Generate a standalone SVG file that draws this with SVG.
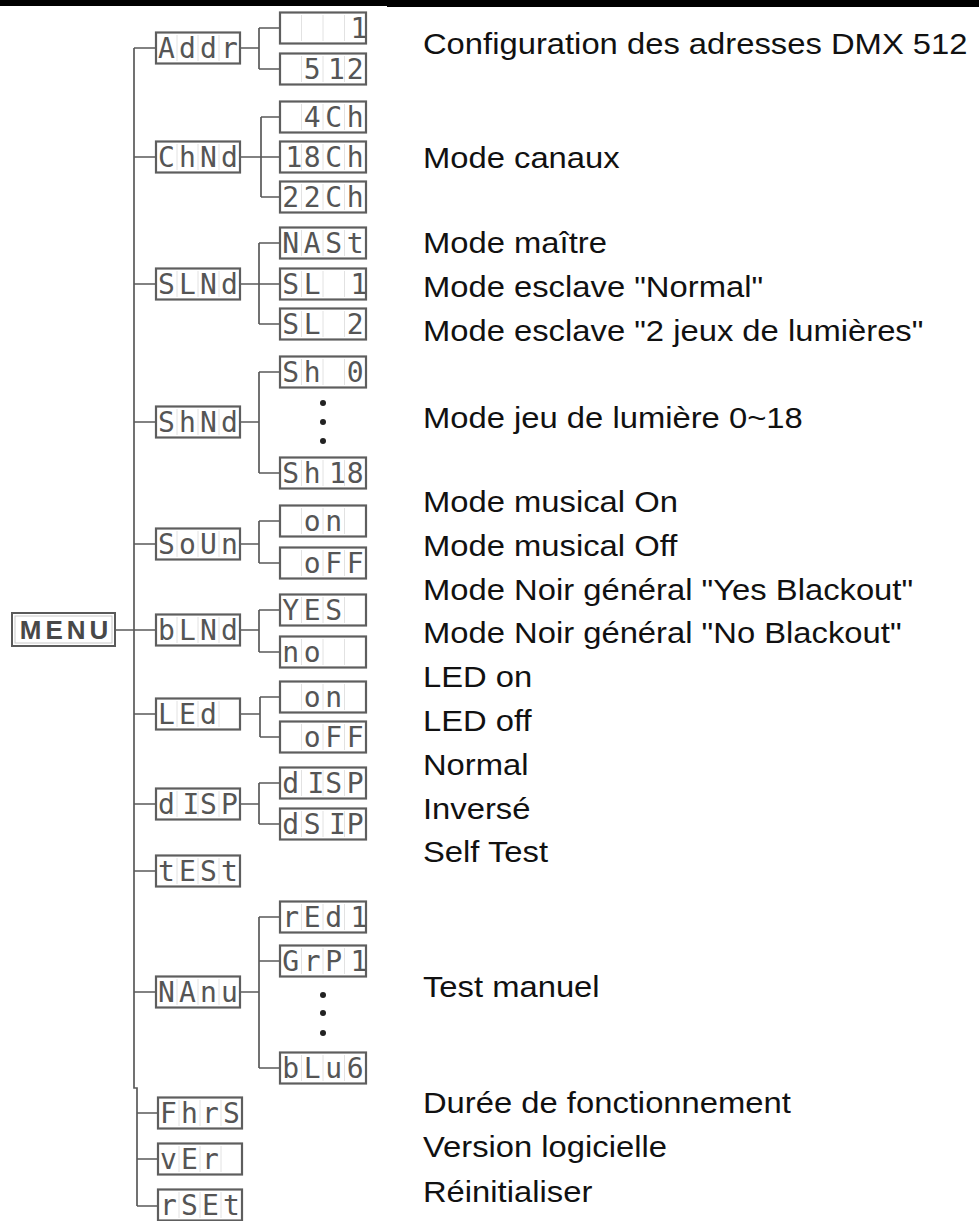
<svg xmlns="http://www.w3.org/2000/svg" xmlns:xlink="http://www.w3.org/1999/xlink" width="979" height="1221" viewBox="0 0 979 1221">
<style>
.lbl{font-family:"Liberation Sans",Arial,Helvetica,sans-serif;font-size:29px;fill:#111}
.lcd{font-family:"DejaVu Sans Mono","Liberation Mono",monospace;font-size:28px;fill:#555;text-anchor:middle}
.menu{font-family:"Liberation Sans",Arial,sans-serif;font-weight:bold;font-size:26px;fill:#484848;text-anchor:middle;letter-spacing:4px}
.box{fill:#fff;stroke:#5e5e5e;stroke-width:2.2}
.div{stroke:#e2e2e2;stroke-width:1}
.con{fill:none;stroke:#5a5a5a;stroke-width:1.7}
.dot{fill:#222}
</style>
<defs>
<g id="pbox"><rect class="box" x="0" y="-15.5" width="84" height="31"/><path class="div" d="M21,-13V13M42,-13V13M63,-13V13"/></g>
<g id="cbox"><rect class="box" x="0" y="-15.5" width="86" height="31"/><path class="div" d="M21.5,-13V13M43,-13V13M64.5,-13V13"/></g>
</defs>
<rect x="0" y="0" width="387" height="6" fill="#000"/>
<rect x="387" y="0" width="592" height="7" fill="#000"/>

<g id="connectors">
<path class="con" d="M134,48V1088H137V1206"/>
<path class="con" d="M115,630H156"/>
<path class="con" d="M134,48H156M134,157H156M134,284H156M134,422H156M134,544H156M134,714H156M134,804H156M134,871H156M134,992H156M137,1113H158M137,1159H158M137,1206H158"/>
<path class="con" d="M240,48H259M259,28V69M259,28H280M259,69H280"/>
<path class="con" d="M240,157H280M261,117V197M261,117H280M261,197H280"/>
<path class="con" d="M240,284H280M259,243V324M259,243H280M259,324H280"/>
<path class="con" d="M240,422H259M259,372V473M259,372H280M259,473H280"/>
<path class="con" d="M240,544H259M259,521V563M259,521H280M259,563H280"/>
<path class="con" d="M240,630H259M259,610V652M259,610H280M259,652H280"/>
<path class="con" d="M240,714H260M260,697V737M260,697H280M260,737H280"/>
<path class="con" d="M240,804H259M259,783V824M259,783H280M259,824H280"/>
<path class="con" d="M240,992H259M259,917V1068M259,917H280M259,961H280M259,1068H280"/>
</g>

<g id="menu"><rect x="12" y="613" width="103" height="33" fill="#fff" stroke="#5a5a5a" stroke-width="2"/><rect x="15" y="616" width="97" height="27" fill="none" stroke="#c8c8c8" stroke-width="1"/><text class="menu" x="66" y="639">MENU</text></g>

<g id="addr"><use xlink:href="#pbox" x="156" y="48"/><text class="lcd" x="166.5 187.5 208.5 229.5" y="58">Addr</text></g>
<g id="addr-1"><use xlink:href="#cbox" x="280" y="28"/><text class="lcd" x="359" y="38">1</text></g>
<g id="addr-512"><use xlink:href="#cbox" x="280" y="69"/><text class="lcd" x="312.25 336.5 355.25" y="79">512</text></g>

<g id="chnd"><use xlink:href="#pbox" x="156" y="157"/><text class="lcd" x="166.5 187.5 208.5 229.5" y="167">ChNd</text></g>
<g id="ch4"><use xlink:href="#cbox" x="280" y="117"/><text class="lcd" x="312.25 333.75 355.25" y="127">4Ch</text></g>
<g id="ch18"><use xlink:href="#cbox" x="280" y="157"/><text class="lcd" x="294 312.25 333.75 355.25" y="167">18Ch</text></g>
<g id="ch22"><use xlink:href="#cbox" x="280" y="197"/><text class="lcd" x="290.75 312.25 333.75 355.25" y="207">22Ch</text></g>

<g id="slnd"><use xlink:href="#pbox" x="156" y="284"/><text class="lcd" x="166.5 187.5 208.5 229.5" y="294">SLNd</text></g>
<g id="mast"><use xlink:href="#cbox" x="280" y="243"/><text class="lcd" x="290.75 312.25 333.75 355.25" y="253">NASt</text></g>
<g id="sl1"><use xlink:href="#cbox" x="280" y="284"/><text class="lcd" x="290.75 312.25 333.75 359" y="294">SL 1</text></g>
<g id="sl2"><use xlink:href="#cbox" x="280" y="324"/><text class="lcd" x="290.75 312.25 333.75 355.25" y="334">SL 2</text></g>

<g id="shnd"><use xlink:href="#pbox" x="156" y="422"/><text class="lcd" x="166.5 187.5 208.5 229.5" y="432">ShNd</text></g>
<g id="sh0"><use xlink:href="#cbox" x="280" y="372"/><text class="lcd" x="290.75 312.25 333.75 355.25" y="382">Sh 0</text></g>
<g id="sh-dots"><circle class="dot" cx="323" cy="403" r="3"/><circle class="dot" cx="323" cy="422" r="3"/><circle class="dot" cx="323" cy="441" r="3"/></g>
<g id="sh18"><use xlink:href="#cbox" x="280" y="473"/><text class="lcd" x="290.75 312.25 337.5 355.25" y="483">Sh18</text></g>

<g id="soun"><use xlink:href="#pbox" x="156" y="544"/><text class="lcd" x="166.5 187.5 208.5 229.5" y="554">SoUn</text></g>
<g id="soun-on"><use xlink:href="#cbox" x="280" y="521"/><text class="lcd" x="312.25 333.75" y="531">on</text></g>
<g id="soun-off"><use xlink:href="#cbox" x="280" y="563"/><text class="lcd" x="312.25 333.75 355.25" y="573">oFF</text></g>

<g id="blnd"><use xlink:href="#pbox" x="156" y="630"/><text class="lcd" x="166.5 187.5 208.5 229.5" y="640">bLNd</text></g>
<g id="yes"><use xlink:href="#cbox" x="280" y="610"/><text class="lcd" x="290.75 312.25 333.75" y="620">YES</text></g>
<g id="no"><use xlink:href="#cbox" x="280" y="652"/><text class="lcd" x="290.75 312.25" y="662">no</text></g>

<g id="led"><use xlink:href="#pbox" x="156" y="714"/><text class="lcd" x="166.5 187.5 208.5" y="724">LEd</text></g>
<g id="led-on"><use xlink:href="#cbox" x="280" y="697"/><text class="lcd" x="312.25 333.75" y="707">on</text></g>
<g id="led-off"><use xlink:href="#cbox" x="280" y="737"/><text class="lcd" x="312.25 333.75 355.25" y="747">oFF</text></g>

<g id="disp"><use xlink:href="#pbox" x="156" y="804"/><text class="lcd" x="166.5 191 208.5 229.5" y="814">dISP</text></g>
<g id="disp-n"><use xlink:href="#cbox" x="280" y="783"/><text class="lcd" x="290.75 316 333.75 355.25" y="793">dISP</text></g>
<g id="disp-i"><use xlink:href="#cbox" x="280" y="824"/><text class="lcd" x="290.75 312.25 337.5 355.25" y="834">dSIP</text></g>

<g id="test"><use xlink:href="#pbox" x="156" y="871"/><text class="lcd" x="166.5 187.5 208.5 229.5" y="881">tESt</text></g>

<g id="manu"><use xlink:href="#pbox" x="156" y="992"/><text class="lcd" x="166.5 187.5 208.5 229.5" y="1002">NAnu</text></g>
<g id="red1"><use xlink:href="#cbox" x="280" y="917"/><text class="lcd" x="290.75 312.25 333.75 359" y="927">rEd1</text></g>
<g id="grp1"><use xlink:href="#cbox" x="280" y="961"/><text class="lcd" x="290.75 312.25 333.75 359" y="971">GrP1</text></g>
<g id="manu-dots"><circle class="dot" cx="323" cy="995" r="3"/><circle class="dot" cx="323" cy="1013" r="3"/><circle class="dot" cx="323" cy="1033" r="3"/></g>
<g id="blu6"><use xlink:href="#cbox" x="280" y="1068"/><text class="lcd" x="290.75 312.25 333.75 355.25" y="1078">bLu6</text></g>

<g id="fhrs"><use xlink:href="#pbox" x="158" y="1113"/><text class="lcd" x="168.5 189.5 210.5 231.5" y="1123">FhrS</text></g>
<g id="ver"><use xlink:href="#pbox" x="158" y="1159"/><text class="lcd" x="168.5 189.5 210.5" y="1169">vEr</text></g>
<g id="rset"><use xlink:href="#pbox" x="158" y="1205"/><text class="lcd" x="168.5 189.5 210.5 231.5" y="1215">rSEt</text></g>

<g id="labels" transform="scale(1.13,1)">
<text class="lbl" x="374.3" y="54">Configuration des adresses DMX 512</text>
<text class="lbl" x="374.3" y="168">Mode canaux</text>
<text class="lbl" x="374.3" y="253">Mode maître</text>
<text class="lbl" x="374.3" y="297">Mode esclave "Normal"</text>
<text class="lbl" x="374.3" y="341">Mode esclave "2 jeux de lumières"</text>
<text class="lbl" x="374.3" y="428">Mode jeu de lumière 0~18</text>
<text class="lbl" x="374.3" y="512">Mode musical On</text>
<text class="lbl" x="374.3" y="556">Mode musical Off</text>
<text class="lbl" x="374.3" y="600">Mode Noir général "Yes Blackout"</text>
<text class="lbl" x="374.3" y="643">Mode Noir général "No Blackout"</text>
<text class="lbl" x="374.3" y="687">LED on</text>
<text class="lbl" x="374.3" y="731">LED off</text>
<text class="lbl" x="374.3" y="775">Normal</text>
<text class="lbl" x="374.3" y="819">Inversé</text>
<text class="lbl" x="374.3" y="862">Self Test</text>
<text class="lbl" x="374.3" y="997">Test manuel</text>
<text class="lbl" x="374.3" y="1113">Durée de fonctionnement</text>
<text class="lbl" x="374.3" y="1157">Version logicielle</text>
<text class="lbl" x="374.3" y="1202">Réinitialiser</text>
</g>
</svg>
